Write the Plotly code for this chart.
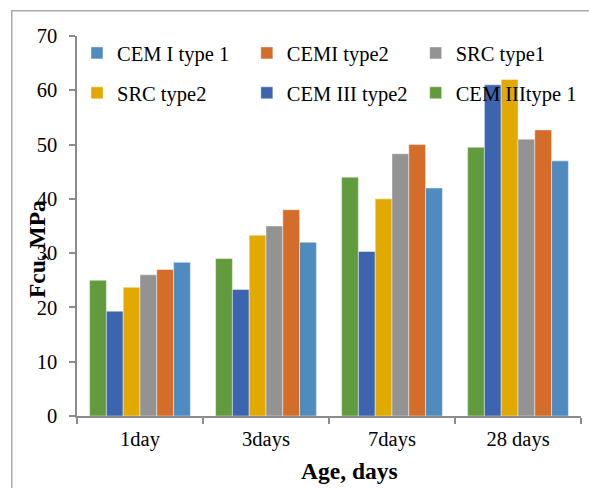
import plotly.graph_objects as go

# Compressive strength by curing age
ages = ["1day", "3days", "7days", "28 days"]

cem3_type1 = [25.0, 29.0, 44.0, 49.5]
cem3_type2 = [19.3, 23.3, 30.3, 61.0]
src_type2 = [23.7, 33.3, 40.0, 62.0]
src_type1 = [26.0, 35.0, 48.3, 51.0]
cem1_type2 = [27.0, 38.0, 50.0, 52.7]
cem1_type1 = [28.3, 32.0, 42.0, 47.0]

y_ticks = [0, 10, 20, 30, 40, 50, 60, 70]

FONT = "Liberation Serif"

# drawn left-to-right inside each group; each series gets its own legend box
# so the key reads as a 3 x 2 grid above the bars
series = [
    ("CEM IIItype 1", cem3_type1, "#629b3d", "legend6"),
    ("CEM III type2", cem3_type2, "#3d64ae", "legend5"),
    ("SRC type2", src_type2, "#e2aa00", "legend4"),
    ("SRC type1", src_type1, "#939393", "legend3"),
    ("CEMI type2", cem1_type2, "#d46d2a", "legend2"),
    ("CEM I type 1", cem1_type1, "#4f8bbf", "legend"),
]

fig = go.Figure()
for name, vals, color, leg in series:
    fig.add_trace(go.Bar(
        x=ages, y=vals, name=name, legend=leg, showlegend=True,
        marker=dict(color=color, line=dict(color="rgba(255,255,255,0.55)", width=0.8)),
    ))

axis_line = "#8c8c8c"

legend_common = dict(
    orientation="v",
    font=dict(family=FONT, size=20.5, color="#000000"),
    bgcolor="rgba(0,0,0,0)",
    xanchor="left",
    yanchor="middle",
    itemwidth=30,
)

col_x = [0.0, 0.337, 0.672]
row_y = [0.955, 0.85]
legend_pos = {
    "legend": (col_x[0], row_y[0]),
    "legend2": (col_x[1], row_y[0]),
    "legend3": (col_x[2], row_y[0]),
    "legend4": (col_x[0], row_y[1]),
    "legend5": (col_x[1], row_y[1]),
    "legend6": (col_x[2], row_y[1]),
}
legends = {k: dict(legend_common, x=v[0], y=v[1]) for k, v in legend_pos.items()}

fig.update_layout(
    width=589, height=488,
    margin=dict(l=77, r=7.5, t=36, b=72),
    paper_bgcolor="#ffffff",
    plot_bgcolor="#ffffff",
    showlegend=True,
    barmode="group",
    bargap=0.2,
    bargroupgap=0,
    font=dict(family=FONT, size=20.5, color="#000000"),
    **legends,
    xaxis=dict(
        showline=True, linecolor=axis_line, linewidth=1.5,
        ticks="outside", tickson="boundaries", ticklen=6, tickcolor=axis_line, tickwidth=1.5,
        tickfont=dict(family=FONT, size=20.5), ticklabelstandoff=4,
        showgrid=False,
    ),
    yaxis=dict(
        range=[0, 70], tickvals=y_ticks,
        showline=True, linecolor=axis_line, linewidth=1.5,
        ticks="outside", ticklen=6, tickcolor=axis_line, tickwidth=1.5,
        tickfont=dict(family=FONT, size=20.5), ticklabelstandoff=8,
        showgrid=False, zeroline=False,
    ),
    shapes=[dict(
        type="rect", xref="paper", yref="paper",
        x0=-0.1294, x1=1.05, y0=-0.25, y1=1.0666,
        line=dict(color="#ababab", width=1.5), fillcolor="rgba(0,0,0,0)", layer="below",
    )],
    annotations=[
        dict(text="<b>Fcu, MPa</b>", xref="paper", yref="paper", x=-0.0793, y=0.4395,
             textangle=-90, showarrow=False, xanchor="center", yanchor="middle",
             font=dict(family=FONT, size=23.5, color="#000000")),
        dict(text="<b>Age, days</b>", xref="paper", yref="paper", x=0.541, y=-0.1447,
             showarrow=False, xanchor="center", yanchor="middle",
             font=dict(family=FONT, size=23.5, color="#000000")),
    ],
)

fig.write_html("out.html")
